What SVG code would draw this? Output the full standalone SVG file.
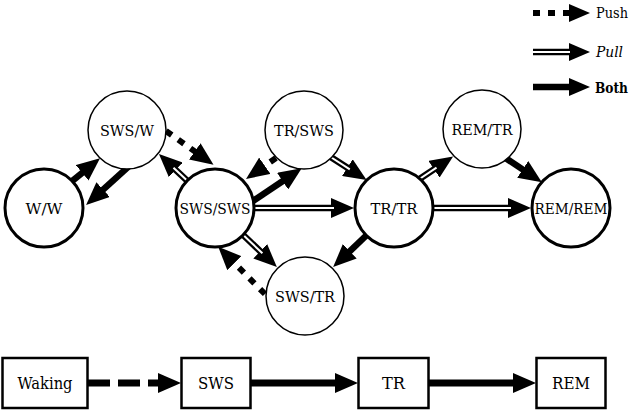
<svg xmlns="http://www.w3.org/2000/svg" width="634" height="410" viewBox="0 0 634 410">
<defs>
<marker id="ah" markerUnits="userSpaceOnUse" markerWidth="23" markerHeight="20" viewBox="0 0 23 20" refX="3" refY="10" orient="auto"><path d="M0,0 L23,10 L0,20 z" fill="#000"/></marker>
<marker id="ahl" markerUnits="userSpaceOnUse" markerWidth="21" markerHeight="18" viewBox="0 0 21 18" refX="1" refY="9" orient="auto"><path d="M0,0 L21,9 L0,18 z" fill="#000"/></marker>
<marker id="ahb" markerUnits="userSpaceOnUse" markerWidth="23" markerHeight="20" viewBox="0 0 23 20" refX="0" refY="10" orient="auto"><path d="M0,0 L23,10 L0,20 z" fill="#000"/></marker>
</defs>
<style>
.both{stroke:#000;stroke-width:6.5;fill:none;marker-end:url(#ah)}
.push{stroke:#000;stroke-width:6;fill:none;stroke-dasharray:7 8;marker-end:url(#ah)}
.pullo{stroke:#000;stroke-width:6.5;fill:none;marker-end:url(#ah)}
.pulli{stroke:#fff;stroke-width:2;fill:none}
.lgd{marker-end:url(#ahl)}
.bar{stroke:#000;stroke-width:7;fill:none;marker-end:url(#ahb)}
.n1{fill:#fff;stroke:#000;stroke-width:1.5}
.n2{fill:#fff;stroke:#000;stroke-width:3}
.box{fill:#fff;stroke:#000;stroke-width:2.5}
.nt{font-size:15.5px;text-anchor:middle;fill:#000}
.bt{font-size:16.5px;text-anchor:middle;fill:#000}
.lg{font-size:15.5px;fill:#000}
</style>
<g id="connectors">
<path class="both" d="M69.4,183.2 L84.5,170.9"/>
<path class="both" d="M130.7,164.6 L100.9,191.6"/>
<path class="push" d="M166,131 L197.2,153.1"/>
<path class="pullo" d="M195,188 L173.5,167.8"/>
<path class="pulli" d="M195,188 L173.5,167.8"/>
<path class="push" d="M276,158 L262.4,167.5"/>
<path class="both" d="M250,203 L285.1,179.5"/>
<path class="pullo" d="M326,154 L349.8,169.3"/>
<path class="pulli" d="M326,154 L349.8,169.3"/>
<path class="pullo" d="M250,208 L334,208"/>
<path class="pulli" d="M250,208 L334,208"/>
<path class="pullo" d="M415,182 L436.5,167.6"/>
<path class="pulli" d="M415,182 L436.5,167.6"/>
<path class="both" d="M504,157 L525.2,171.1"/>
<path class="pullo" d="M430,208 L511,208"/>
<path class="pulli" d="M430,208 L511,208"/>
<path class="both" d="M372,230 L347.6,253.3"/>
<path class="pullo" d="M239,231 L262.4,253.3"/>
<path class="pulli" d="M239,231 L262.4,253.3"/>
<path class="push" d="M265,294 L232.3,261"/>
<path class="bar" d="M88,383 L158,383" style="stroke-dasharray:22 8"/>
<path class="bar" d="M251,383 L335,383"/>
<path class="bar" d="M429,383 L513,383"/>
<path class="push lgd" d="M533,13 L570,13"/>
<path class="pullo lgd" d="M533,52 L570,52"/>
<path class="pulli" d="M533,52 L570,52"/>
<path class="both lgd" d="M533,87 L570,87"/>
</g>
<g font-family="DejaVu Serif, serif">
<g id="node-ww"><circle class="n2" cx="44" cy="208" r="39"/><text class="nt" x="44" y="214" textLength="37" lengthAdjust="spacingAndGlyphs">W/W</text></g>
<g id="node-swsw"><circle class="n1" cx="127" cy="130" r="39"/><text class="nt" x="127" y="136" textLength="54" lengthAdjust="spacingAndGlyphs">SWS/W</text></g>
<g id="node-swssws"><circle class="n2" cx="215" cy="208" r="39"/><text class="nt" x="215" y="214" textLength="71" lengthAdjust="spacingAndGlyphs">SWS/SWS</text></g>
<g id="node-trsws"><circle class="n1" cx="304" cy="130" r="39"/><text class="nt" x="304" y="136" textLength="60" lengthAdjust="spacingAndGlyphs">TR/SWS</text></g>
<g id="node-trtr"><circle class="n2" cx="394" cy="208" r="39"/><text class="nt" x="394" y="214" textLength="47" lengthAdjust="spacingAndGlyphs">TR/TR</text></g>
<g id="node-remtr"><circle class="n1" cx="482" cy="129" r="39"/><text class="nt" x="482" y="135" textLength="61" lengthAdjust="spacingAndGlyphs">REM/TR</text></g>
<g id="node-remrem"><circle class="n2" cx="571" cy="208" r="39"/><text class="nt" x="571" y="214" textLength="73" lengthAdjust="spacingAndGlyphs">REM/REM</text></g>
<g id="node-swstr"><circle class="n1" cx="305" cy="296" r="39"/><text class="nt" x="305" y="302" textLength="60" lengthAdjust="spacingAndGlyphs">SWS/TR</text></g>
<g id="box-waking"><rect class="box" x="2.5" y="358" width="85" height="50"/><text class="bt" x="45" y="389" textLength="55" lengthAdjust="spacingAndGlyphs">Waking</text></g>
<g id="box-sws"><rect class="box" x="181.5" y="358" width="69" height="50"/><text class="bt" x="216" y="389" textLength="36" lengthAdjust="spacingAndGlyphs">SWS</text></g>
<g id="box-tr"><rect class="box" x="358.5" y="358" width="70" height="50"/><text class="bt" x="393.5" y="389" textLength="23" lengthAdjust="spacingAndGlyphs">TR</text></g>
<g id="box-rem"><rect class="box" x="536.5" y="358" width="69" height="50"/><text class="bt" x="571" y="389" textLength="38" lengthAdjust="spacingAndGlyphs">REM</text></g>
<g id="legend">
<text class="lg" x="596" y="18" textLength="32" lengthAdjust="spacingAndGlyphs">Push</text>
<text class="lg" x="596" y="57" font-style="italic" textLength="27" lengthAdjust="spacingAndGlyphs">Pull</text>
<text class="lg" x="595" y="93" font-weight="bold" style="font-size:14px" textLength="33" lengthAdjust="spacingAndGlyphs">Both</text>
</g>
</g>
</svg>
